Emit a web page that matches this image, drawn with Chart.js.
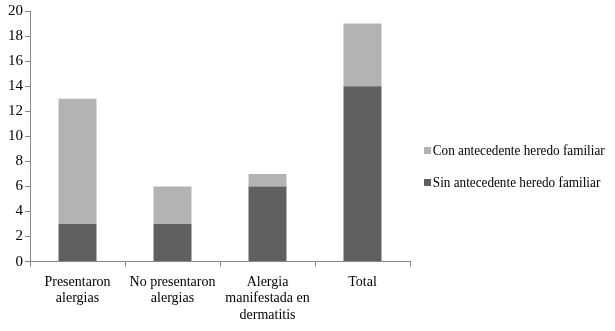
<!DOCTYPE html>
<html>
<head>
<meta charset="utf-8">
<script src="https://cdn.jsdelivr.net/npm/chart.js@4"></script>
<style>
  html, body { margin: 0; padding: 0; background: #fff; }
  #wrap { position: relative; width: 615px; height: 331px; }
  #leyenda { position: absolute; left: 424px; top: 140px; font-family: 'Liberation Serif', 'Times New Roman', serif; font-size: 15px; color: #000; transform: scaleX(0.88); transform-origin: left top; }
  #leyenda div { height: 32px; line-height: 20px; white-space: nowrap; }
  #leyenda span.caja { display: inline-block; width: 8px; height: 7px; margin-right: 2px; vertical-align: 1px; }
</style>
</head>
<body>
<div id="wrap">
  <canvas id="myChart" width="615" height="331"></canvas>
  <div id="leyenda"></div>
</div>
<script>
// categorias y valores
var categorias = [
  ["Presentaron", "alergias"],
  ["No presentaron", "alergias"],
  ["Alergia", "manifestada en", "dermatitis"],
  ["Total"]
];
var sinAntecedente = [3, 3, 6, 14];
var conAntecedente = [10, 3, 1, 5];
var yTicks = [0, 2, 4, 6, 8, 10, 12, 14, 16, 18, 20];

Chart.defaults.font.family = "'Liberation Serif', 'Times New Roman', serif";
Chart.defaults.font.size = 15;
Chart.defaults.color = '#000';

var ctx = document.getElementById("myChart");

var grafico = new Chart(ctx, {
  type: 'bar',
  data: {
    labels: categorias,
    datasets: [{
      label: 'Sin antecedente heredo familiar',
      data: sinAntecedente,
      backgroundColor: '#606060',
      barPercentage: 0.4,
      categoryPercentage: 1
    }, {
      label: 'Con antecedente heredo familiar',
      data: conAntecedente,
      backgroundColor: '#b3b3b3',
      barPercentage: 0.4,
      categoryPercentage: 1
    }]
  },
  options: {
    responsive: false,
    animation: false,
    layout: { padding: { top: 6, right: 205, left: 6, bottom: 0 } },
    plugins: {
      tooltip: { enabled: false },
      legend: { display: false }
    },
    scales: {
      x: {
        stacked: true,
        grid: { display: true, drawOnChartArea: false, offset: true, color: '#888', tickLength: 5 },
        border: { color: '#888' },
        ticks: { autoSkip: false, maxRotation: 0, padding: 7, font: { size: 14, lineHeight: 1.2 } }
      },
      y: {
        stacked: true,
        min: 0,
        max: 20,
        afterBuildTicks: function (axis) {
          axis.ticks = yTicks.map(function (v) { return { value: v }; });
        },
        grid: { display: true, drawOnChartArea: false, color: '#888', tickLength: 5 },
        border: { color: '#888' },
        ticks: { padding: 2, font: { size: 15 } }
      }
    }
  }
});

// leyenda en html (la de Chart.js se corta a la derecha)
var leyenda = document.getElementById("leyenda");
var ds = grafico.data.datasets.slice().reverse();
for (var i = 0; i < ds.length; i++) {
  var fila = document.createElement("div");
  var caja = document.createElement("span");
  caja.className = "caja";
  caja.style.background = ds[i].backgroundColor;
  fila.appendChild(caja);
  fila.appendChild(document.createTextNode(ds[i].label));
  leyenda.appendChild(fila);
}
</script>
</body>
</html>
